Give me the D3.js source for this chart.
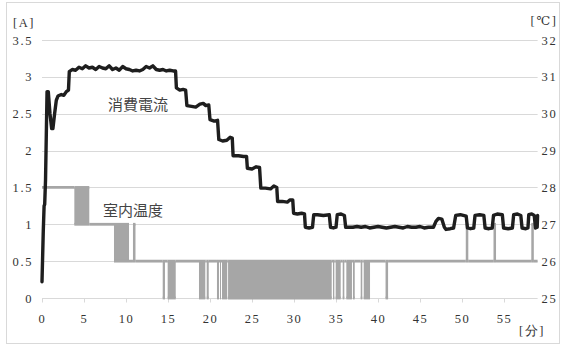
<!DOCTYPE html>
<html>
<head>
<meta charset="utf-8">
<script src="https://cdn.jsdelivr.net/npm/d3@7"></script>
<style>
  html, body { margin: 0; padding: 0; background: #fff; }
  svg { display: block; }
  .tick-label { font-family: "Liberation Serif", "DejaVu Serif", serif; font-size: 12.5px; fill: #333; letter-spacing: 1.6px; }
  .series-label { font-family: "Noto Sans CJK JP", sans-serif; font-size: 15px; fill: #444; }
</style>
</head>
<body>
<svg id="chart" width="564" height="347"></svg>
<script>
// Current draw [A] over time [min]
const currentTime = [
  0, 0.15, 0.25, 0.32, 0.42, 0.6, 0.75, 0.95, 1.15, 1.3, 1.5, 1.7, 1.9, 2.3, 2.6, 2.9, 3.15,
  3.25, 3.6, 4.0, 4.4, 4.8, 5.2, 5.6, 6.0, 6.4, 6.8, 7.2, 7.6, 8.0, 8.4, 8.8, 9.2, 9.6, 10.0,
  10.4, 10.8, 11.2, 11.6, 12.0, 12.4, 12.8, 13.2, 13.6, 14.0, 14.4, 14.8, 15.2, 15.6, 15.9,
  16.0, 16.4, 16.8, 17.1, 17.25, 17.8, 18.3, 18.8, 19.2, 19.5, 19.85,
  20.0, 20.5, 20.9, 21.05, 21.5, 22.0, 22.4, 22.65, 22.75, 23.4, 24.0, 24.35,
  24.45, 25.0, 25.5, 25.9, 26.05, 26.6, 27.2, 27.6, 27.95, 28.05, 28.6, 29.2, 29.5, 29.85,
  29.95, 30.4, 30.9, 31.25, 31.35, 31.8, 32.2, 32.35, 32.8, 33.5, 34.2, 34.35, 34.7, 35.0,
  35.15, 35.6, 36.0, 36.15, 36.5, 37.0, 37.5, 38.0, 38.5, 39.0, 39.5, 40.0, 40.5, 41.0,
  41.5, 42.0, 42.5, 43.0, 43.5, 44.0, 44.5, 45.0, 45.5, 46.0, 46.6,
  46.9, 47.2, 47.6, 47.9, 48.1, 48.6, 49.0, 49.25, 49.8, 50.5, 50.65, 51.0, 51.4,
  51.55, 52.1, 52.6, 52.75, 53.2, 53.6, 53.75, 54.2, 54.8, 54.95, 55.5, 56.0,
  56.15, 56.6, 57.0, 57.15, 57.6, 57.85, 57.95, 58.3, 58.6, 58.75, 58.95, 59.0
];
const currentValue = [
  0.22, 0.9, 1.25, 1.27, 1.6, 2.8, 2.8, 2.5, 2.3, 2.3, 2.5, 2.68, 2.74, 2.76, 2.75, 2.8, 2.82,
  3.07, 3.1, 3.09, 3.13, 3.11, 3.15, 3.12, 3.13, 3.1, 3.14, 3.12, 3.11, 3.15, 3.1, 3.12, 3.09, 3.14, 3.11,
  3.1, 3.08, 3.09, 3.08, 3.1, 3.14, 3.12, 3.15, 3.1, 3.09, 3.1, 3.08, 3.09, 3.08, 3.08,
  2.85, 2.82, 2.83, 2.82, 2.61, 2.6, 2.59, 2.63, 2.64, 2.61, 2.62,
  2.42, 2.4, 2.41, 2.15, 2.13, 2.14, 2.18, 2.17, 1.93, 1.93, 1.92, 1.92,
  1.76, 1.75, 1.78, 1.77, 1.49, 1.49, 1.48, 1.52, 1.5, 1.31, 1.31, 1.3, 1.33, 1.33,
  1.15, 1.14, 1.15, 1.14, 0.96, 0.95, 0.96, 1.13, 1.13, 1.12, 1.13, 0.96, 0.95, 0.96,
  1.13, 1.14, 1.12, 0.96, 0.96, 0.96, 0.97, 0.96, 0.97, 0.95, 0.96, 0.97, 0.96, 0.95,
  0.96, 0.97, 0.96, 0.95, 0.97, 0.96, 0.96, 0.97, 0.95, 0.96, 0.96,
  1.04, 1.08, 1.07, 0.96, 0.93, 0.94, 0.95, 1.12, 1.13, 1.11, 0.95, 0.94, 0.95,
  1.12, 1.13, 1.12, 0.95, 0.94, 0.95, 1.12, 1.14, 1.13, 0.95, 0.94, 0.95,
  1.13, 1.14, 1.12, 0.95, 0.94, 0.95, 1.13, 1.14, 1.12, 0.95, 0.96, 1.12
];

// Room temperature [°C]: each entry holds from its start time until the next one;
// where low and high differ the reading flickers between the two levels.
const tempStart = [
  0, 3.85, 5.63, 8.57, 10.36, 10.83, 11.13, 14.37, 14.64, 14.96, 15.92, 18.69, 19.44, 19.61, 19.85,
  20.83, 21.07, 21.19, 21.31, 21.43, 22.05, 22.15, 34.49, 34.64, 34.8, 34.96, 35.56, 35.8, 35.99,
  36.23, 36.9, 37.02, 37.23, 37.94, 38.13, 38.3, 39.05, 40.9, 41.2,
  50.45, 50.75, 53.75, 54.05, 58.25, 58.55, 59
];
const tempLow = [
  28, 27, 27, 26, 26, 26, 26, 25, 26, 25, 26, 25, 26, 25, 26,
  25, 26, 25, 26, 25, 26, 25, 26, 25, 26, 25, 26, 25, 26,
  25, 26, 25, 26, 25, 26, 25, 26, 25, 26,
  26, 26, 26, 26, 26, 26, 26
];
const tempHigh = [
  28, 28, 27, 27, 26, 27, 26, 26, 26, 26, 26, 26, 26, 26, 26,
  26, 26, 26, 26, 26, 26, 26, 26, 26, 26, 26, 26, 26, 26,
  26, 26, 26, 26, 26, 26, 26, 26, 26, 26,
  27, 26, 27, 26, 27, 26, 26
];

const xTicks = [0, 5, 10, 15, 20, 25, 30, 35, 40, 45, 50, 55];
const leftTicks = [0, 0.5, 1, 1.5, 2, 2.5, 3, 3.5];
const leftTickLabels = ["0", "0.5", "1", "1.5", "2", "2.5", "3", "3.5"];
const rightTicks = [25, 26, 27, 28, 29, 30, 31, 32];

const svg = d3.select("#chart");
const plot = { left: 42, right: 537.6, top: 40, bottom: 298 };

const x = d3.scaleLinear().domain([0, 59]).range([plot.left, plot.right]);
const yA = d3.scaleLinear().domain([0, 3.5]).range([plot.bottom, plot.top]);
const yT = d3.scaleLinear().domain([25, 32]).range([plot.bottom, plot.top]);

// outer frame
svg.append("rect")
  .attr("x", 6.5).attr("y", 2.5).attr("width", 553).attr("height", 341)
  .attr("fill", "none").attr("stroke", "#d9d9d9").attr("stroke-width", 1);

// horizontal gridlines
svg.append("g")
  .selectAll("line").data(leftTicks).join("line")
  .attr("x1", plot.left).attr("x2", plot.right)
  .attr("y1", d => Math.round(yA(d)) + 0.5).attr("y2", d => Math.round(yA(d)) + 0.5)
  .attr("stroke", "#d9d9d9").attr("stroke-width", 1);

// bottom axis
const xAxis = d3.axisBottom(x).tickValues(xTicks).tickSize(4).tickFormat(d3.format("d"));
const gx = svg.append("g").attr("transform", `translate(0,${Math.round(plot.bottom) + 0.5})`).call(xAxis);
gx.select(".domain").remove();
gx.selectAll(".tick line").attr("stroke", "#d9d9d9");
gx.selectAll(".tick text").attr("class", "tick-label").attr("y", 20).attr("dy", "0.32em")
  .attr("font-family", null).attr("font-size", null).attr("fill", null);

// left axis labels
const gl = svg.append("g").attr("transform", `translate(${plot.left},0)`)
  .call(d3.axisLeft(yA).tickValues(leftTicks).tickSize(0).tickPadding(9)
    .tickFormat((d, i) => leftTickLabels[i]));
gl.select(".domain").remove();
gl.selectAll(".tick text").attr("class", "tick-label")
  .attr("font-family", null).attr("font-size", null).attr("fill", null);

// right axis labels
const gr = svg.append("g").attr("transform", `translate(${plot.right},0)`)
  .call(d3.axisRight(yT).tickValues(rightTicks).tickSize(0).tickPadding(4).tickFormat(d3.format("d")));
gr.select(".domain").remove();
gr.selectAll(".tick text").attr("class", "tick-label")
  .attr("font-family", null).attr("font-size", null).attr("fill", null);

// units
svg.append("text").attr("class", "tick-label").attr("x", 24).attr("y", 23).attr("dy", "0.32em")
  .attr("text-anchor", "middle").text("[A]");
svg.append("text").attr("class", "tick-label").attr("x", 544).attr("y", 21).attr("dy", "0.32em")
  .attr("text-anchor", "middle").text("[℃]");
svg.append("text").attr("class", "tick-label").attr("x", 532).attr("y", 331).attr("dy", "0.32em")
  .attr("text-anchor", "middle").text("[分]");

// temperature: flicker bands filled, steady levels drawn as horizontal strokes
const tempGray = "#a6a6a6";
const tempData = tempStart.map((t, i) => ({ t, lo: tempLow[i], hi: tempHigh[i] }));
const tempArea = d3.area()
  .x(d => x(d.t))
  .y0(d => yT(d.lo))
  .y1(d => yT(d.hi))
  .curve(d3.curveStepAfter);
svg.append("path")
  .datum(tempData)
  .attr("d", tempArea)
  .attr("fill", tempGray)
  .attr("stroke", "none");

const tempSegments = [];
tempData.slice(0, -1).forEach((d, i) => {
  const t1 = tempData[i + 1].t;
  tempSegments.push({ t0: d.t, t1, v: d.hi });
  if (d.lo !== d.hi) tempSegments.push({ t0: d.t, t1, v: d.lo });
});
svg.append("g")
  .selectAll("line").data(tempSegments).join("line")
  .attr("x1", d => x(d.t0)).attr("x2", d => x(d.t1))
  .attr("y1", d => yT(d.v)).attr("y2", d => yT(d.v))
  .attr("stroke", tempGray)
  .attr("stroke-width", 2.8)
  .attr("stroke-linecap", "butt");

// current line
const currentData = currentTime.map((t, i) => ({ t, v: currentValue[i] }));
const currentLine = d3.line().x(d => x(d.t)).y(d => yA(d.v));
svg.append("path")
  .datum(currentData)
  .attr("d", currentLine)
  .attr("fill", "none")
  .attr("stroke", "#1e1e1e")
  .attr("stroke-width", 3.4)
  .attr("stroke-linejoin", "round")
  .attr("stroke-linecap", "round");

// series labels
svg.append("text").attr("class", "series-label").attr("x", 108).attr("y", 105).attr("dy", "0.35em").text("消費電流");
svg.append("text").attr("class", "series-label").attr("x", 103).attr("y", 211).attr("dy", "0.35em").text("室内温度");
</script>
</body>
</html>
